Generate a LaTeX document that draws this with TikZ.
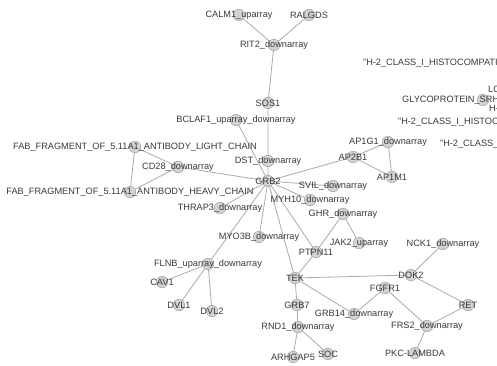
\documentclass[tikz,border=0pt]{standalone}
\usepackage{fontspec}
\setmainfont{Liberation Sans}
\usetikzlibrary{backgrounds}
\definecolor{netline}{HTML}{AAAAAA}
\definecolor{netfill}{HTML}{D3D3D3}
\definecolor{netdraw}{HTML}{999999}
\definecolor{nettext}{HTML}{3A3A3A}

\begin{document}
\begin{tikzpicture}[
  x=1pt, y=-1pt,
  gene/.style={circle, draw=netdraw, fill=netfill, minimum size=11.5pt, inner sep=0pt,
               label={[genetext]center:#1}},
  genetext/.style={font=\fontsize{9.2}{10}\selectfont, text=nettext, inner sep=0pt},
  stray/.style={genetext, anchor=west},
  link/.style={draw=netline, line width=0.8pt},
]
  \useasboundingbox (0,0) rectangle (497,366);

  % Top branch ----------------------------------------------------------------
  \node[gene=CALM1\_uparray] (calm1) at (239,15) {};
  \node[gene=RALGDS] (ralgds) at (309,15) {};
  \node[gene=RIT2\_downarray] (rit2) at (274,45) {};
  \node[gene=SOS1] (sos1) at (268,103) {};
  \node[gene=BCLAF1\_uparray\_downarray] (bclaf1) at (236,120) {};
  \node[gene=DST\_downarray] (dst) at (268,161) {};
  \node[gene=GRB2] (grb2) at (268,181) {};

  % Antibody chains -----------------------------------------------------------
  \node[gene=FAB\_FRAGMENT\_OF\_5.11A1\_ANTIBODY\_LIGHT\_CHAIN] (lightchain) at (135,147) {};
  \node[gene=CD28\_downarray] (cd28) at (178,167) {};
  \node[gene=FAB\_FRAGMENT\_OF\_5.11A1\_ANTIBODY\_HEAVY\_CHAIN] (heavychain) at (130,192) {};
  \node[gene=THRAP3\_downarray] (thrap3) at (220,208) {};

  % Adaptor complex -----------------------------------------------------------
  \node[gene=AP2B1] (ap2b1) at (353,157) {};
  \node[gene=AP1G1\_downarray] (ap1g1) at (388,142) {};
  \node[gene=AP1M1] (ap1m1) at (392,177) {};
  \node[gene=SVIL\_downarray] (svil) at (333,186) {};
  \node[gene=MYH10\_downarray] (myh10) at (310,200) {};
  \node[gene=GHR\_downarray] (ghr) at (343,214) {};
  \node[gene=MYO3B\_downarray] (myo3b) at (259,237) {};
  \node[gene=PTPN11] (ptpn11) at (316,252) {};
  \node[gene=JAK2\_uparray] (jak2) at (359,243) {};

  % Filamin -------------------------------------------------------------------
  \node[gene=FLNB\_uparray\_downarray] (flnb) at (208,264) {};
  \node[gene=CAV1] (cav1) at (162,282) {};
  \node[gene=DVL1] (dvl1) at (179,305) {};
  \node[gene=DVL2] (dvl2) at (212,311) {};

  % TEK and receptor side -----------------------------------------------------
  \node[gene=TEK] (tek) at (295,278) {};
  \node[gene=GRB7] (grb7) at (297,305) {};
  \node[gene=RND1\_downarray] (rnd1) at (298,327) {};
  \node[gene=ARHGAP5] (arhgap5) at (293,357) {};
  \node[gene=SOC] (soc) at (328,354) {};
  \node[gene=GRB14\_downarray] (grb14) at (354,314) {};
  \node[gene=FGFR1] (fgfr1) at (385,288) {};
  \node[gene=FRS2\_downarray] (frs2) at (427,326) {};
  \node[gene=PKC-LAMBDA] (pkclambda) at (415,353) {};
  \node[gene=DOK2] (dok2) at (411,275) {};
  \node[gene=NCK1\_downarray] (nck1) at (443,244) {};
  \node[gene=RET] (ret) at (468,305) {};

  % Loose nodes at the right edge ---------------------------------------------
  \node[stray] (hclassa) at (363,63) {"H-2\_CLASS\_I\_HISTOCOMPATIBILITY};
  \node[stray] (locnote) at (488,89) {LOC};
  \node[gene] (glycodot) at (483,100) {};
  \node[stray] (glyco) at (402,100) {GLYCOPROTEIN\_SRH};
  \node[stray] (hnote) at (489,108) {H-2};
  \node[stray] (hclassb) at (398,122) {"H-2\_CLASS\_I\_HISTOCOMPATIBILITY};
  \node[stray] (hclassc) at (440,144) {"H-2\_CLASS\_I\_HISTO};

  % Edges ---------------------------------------------------------------------
  \begin{scope}[on background layer]
    \fill[white] (0,0) rectangle (497,366);
    \draw[link] (calm1) -- (rit2) (ralgds) -- (rit2) (rit2) -- (sos1);
    \draw[link] (sos1) -- (dst) (dst) -- (grb2) (bclaf1) -- (grb2);
    \draw[link] (lightchain) -- (cd28) (lightchain) -- (heavychain) (heavychain) -- (cd28);
    \draw[link] (cd28) -- (grb2) (grb2) -- (thrap3) (grb2) -- (myo3b) (grb2) -- (flnb);
    \draw[link] (grb2) -- (tek) (grb2) -- (ptpn11) (grb2) -- (myh10) (grb2) -- (svil);
    \draw[link] (grb2) -- (ap2b1) (ap2b1) -- (ap1g1) (ap2b1) -- (ap1m1) (ap1g1) -- (ap1m1);
    \draw[link] (flnb) -- (cav1) (flnb) -- (dvl1) (flnb) -- (dvl2);
    \draw[link] (ghr) -- (ptpn11) (ghr) -- (jak2) (ptpn11) -- (tek);
    \draw[link] (tek) -- (grb7) (grb7) -- (rnd1) (rnd1) -- (arhgap5) (rnd1) -- (soc);
    \draw[link] (tek) -- (dok2) (tek) -- (grb14) (grb14) -- (fgfr1) (fgfr1) -- (frs2);
    \draw[link] (frs2) -- (ret) (ret) -- (dok2) (dok2) -- (nck1) (frs2) -- (pkclambda);
  \end{scope}
\end{tikzpicture}
\end{document}
